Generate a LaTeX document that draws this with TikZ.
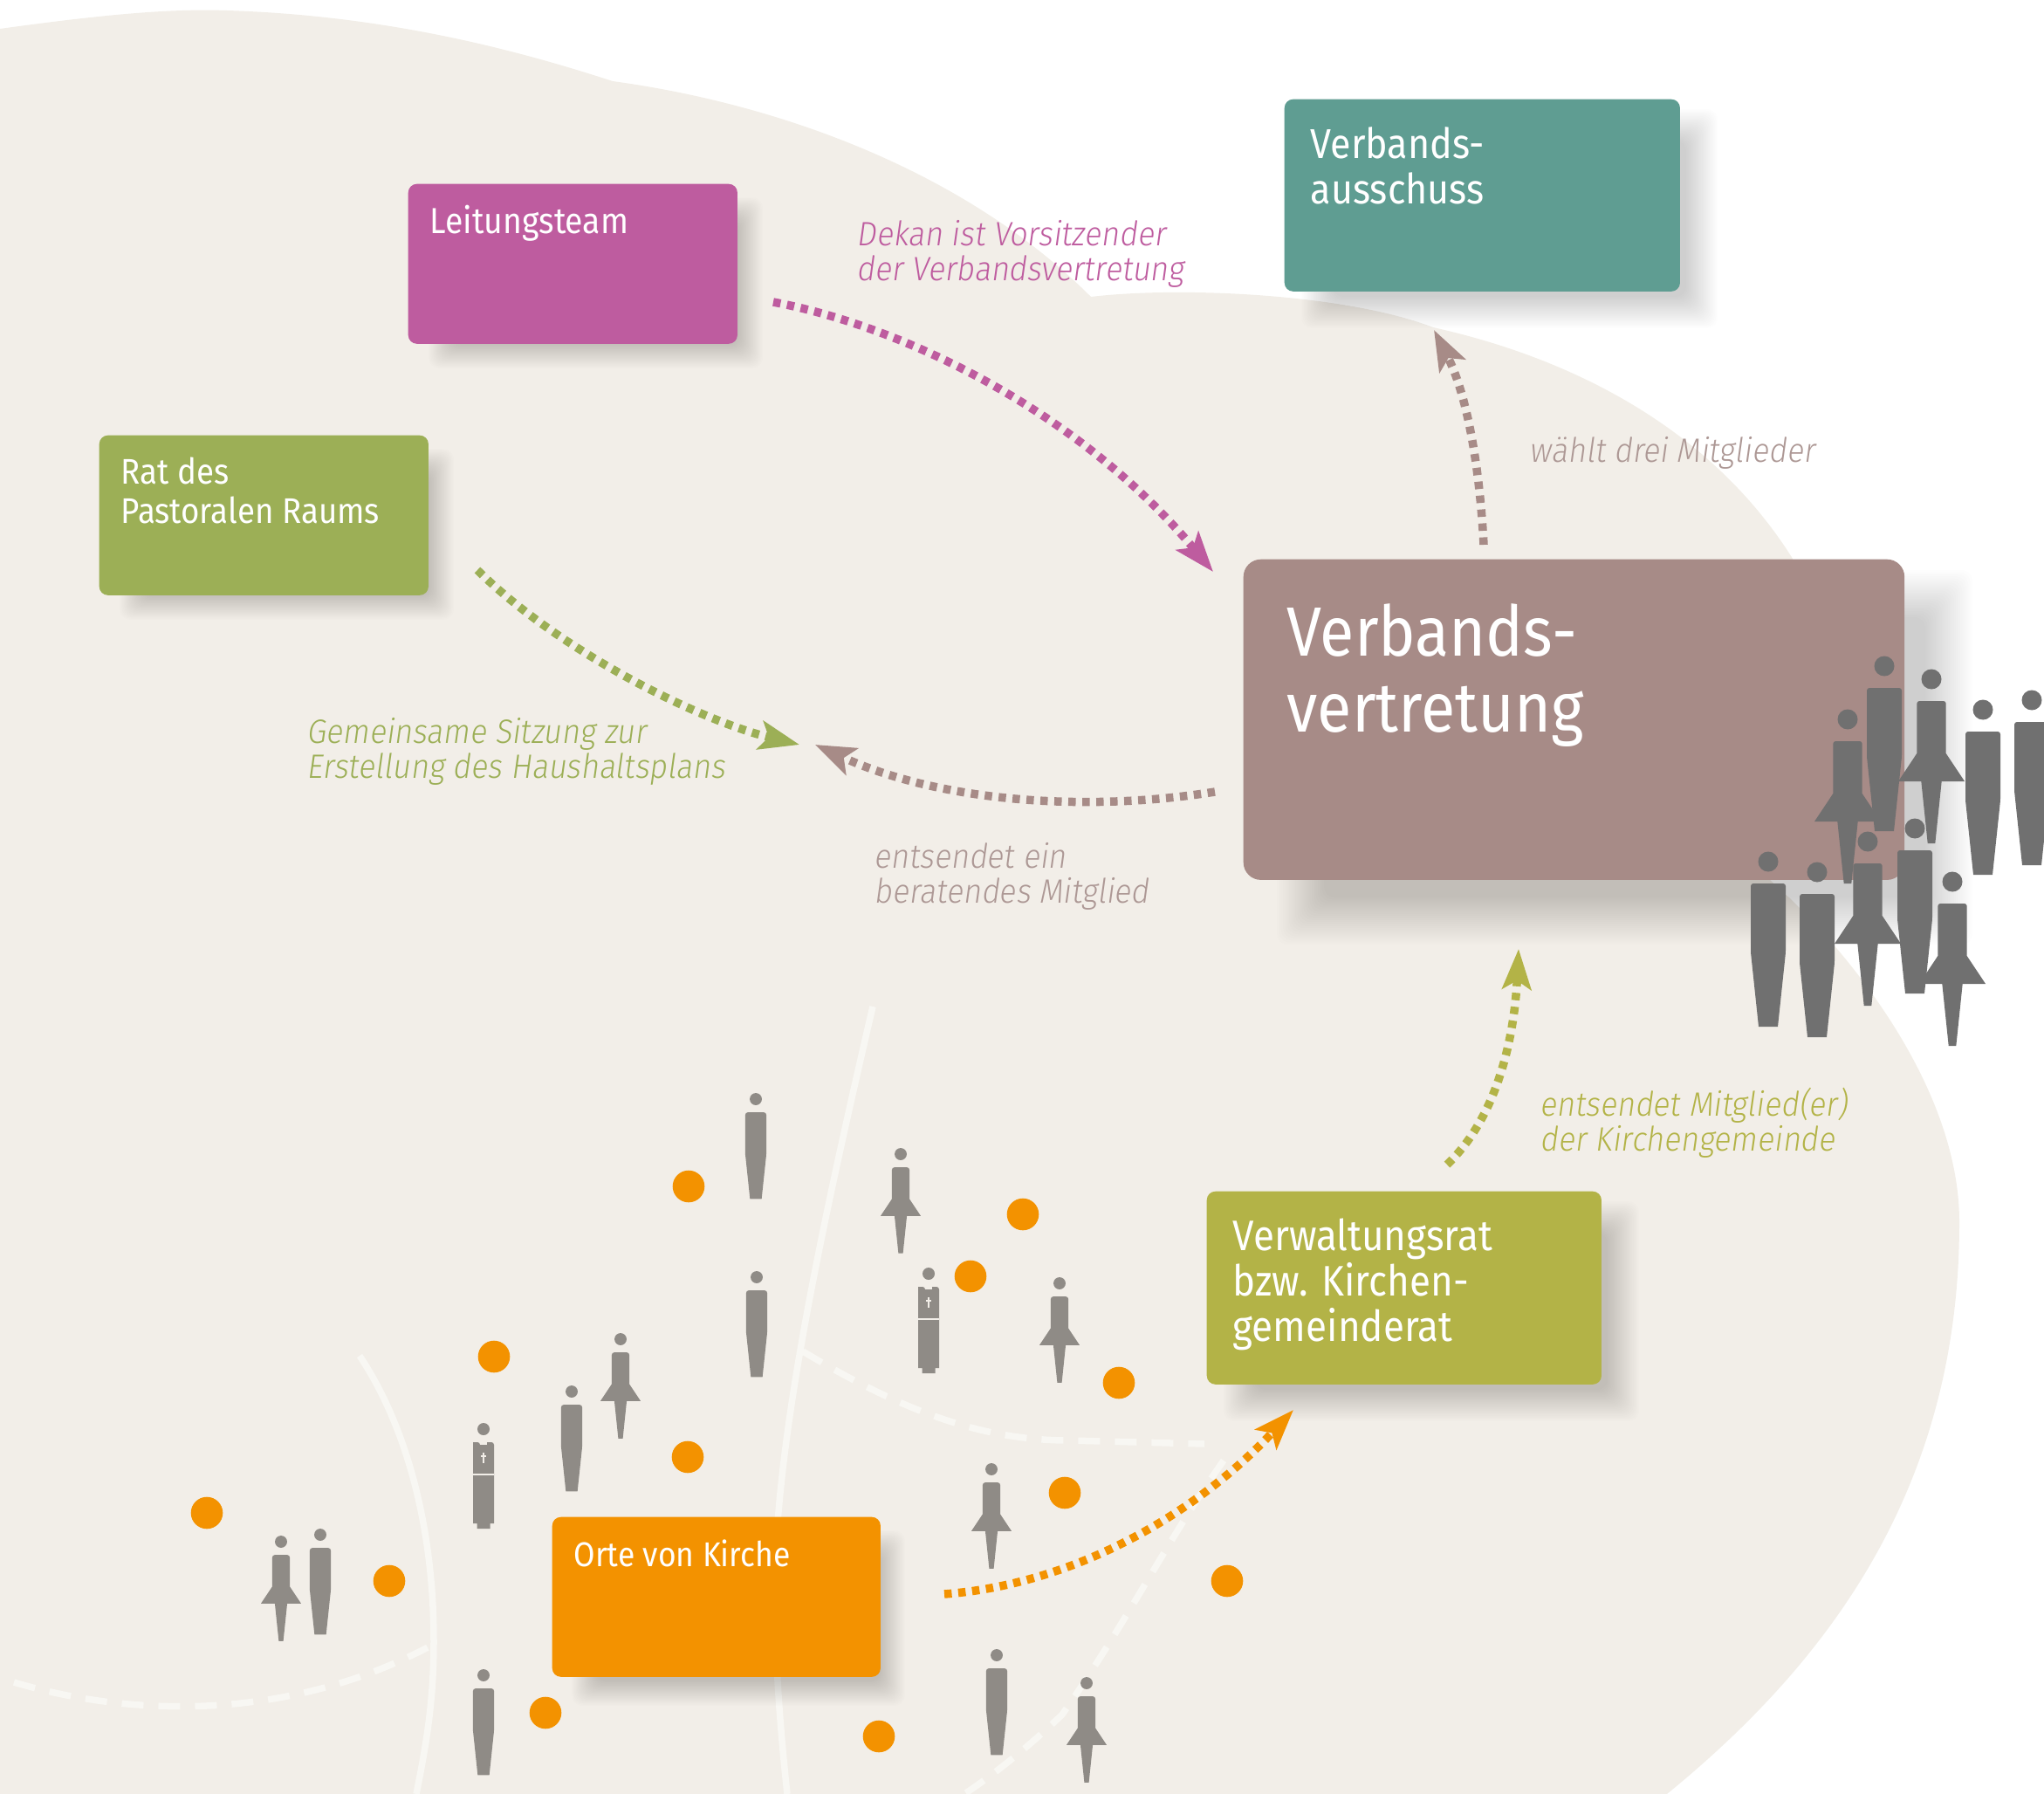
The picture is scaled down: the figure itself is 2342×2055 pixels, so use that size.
\documentclass[tikz,border=0pt]{standalone}
\usepackage{fontspec}
\usetikzlibrary{arrows.meta}
\newfontfamily\boxfont[FakeStretch=0.9]{Fira Sans}
\newfontfamily\notefont[FakeStretch=0.92,FakeSlant=0.14]{Fira Sans Light}
\definecolor{blobc}{HTML}{F2EEE8}
\definecolor{linec}{HTML}{F8F7F3}
\definecolor{pinkc}{HTML}{BE5C9F}
\definecolor{greenc}{HTML}{9CAF56}
\definecolor{tealc}{HTML}{5F9D92}
\definecolor{mauvec}{HTML}{A78B87}
\definecolor{mauvet}{HTML}{AD9895}
\definecolor{olivec}{HTML}{B3B347}
\definecolor{orangec}{HTML}{F39200}
\definecolor{bigfig}{HTML}{707070}
\definecolor{smallfig}{HTML}{8F8B86}
\newcommand{\softshadow}[5]{%
  \foreach \i in {0,...,23}{%
    \pgfmathsetmacro{\e}{#5*(1-2*\i/23)}%
    \fill[black,opacity=0.0095,rounded corners=0.12cm]
      (#1-\e,#2-\e) rectangle (#3+\e,#4+\e);}}
\newcommand{\boxtext}[7]{\parbox[c][#2cm][t]{#1cm}{\raggedright\leftskip=#3cm\relax
  \boxfont\fontsize{#5}{#6}\selectfont\rule{0pt}{#4cm}#7}}
\tikzset{
  x=0.01cm,y=-0.01cm,
  boxnode/.style={anchor=north west,inner sep=0pt,rounded corners=0.1cm,text=white},
  notenode/.style={anchor=north west,inner sep=0pt,align=left,font=\notefont\fontsize{11}{11.4}\selectfont},
  dotted arrow/.style={line width=0.095cm,dash pattern=on 0.085cm off 0.075cm,
    -{Stealth[length=0.46cm,width=0.33cm,inset=0.1cm]}},
  whiteline/.style={draw=linec,line width=0.075cm},
  whitedash/.style={whiteline,dash pattern=on 0.25cm off 0.17cm},
  man/.pic={
    \fill[pic actions] (0,0) circle[radius=11.5];
    \fill[pic actions,rounded corners=0.03cm] (-20,25) -- (20,25) -- (20,70) -- (20,104) [sharp corners] -- (11,189) -- (-11,189) -- (-20,104) [rounded corners=0.03cm] -- (-20,70) -- cycle;
  },
  woman/.pic={
    \fill[pic actions] (0,0) circle[radius=11.5];
    \fill[pic actions,rounded corners=0.03cm] (-16.7,25) -- (16.7,25) -- (16.7,60) [sharp corners] -- (16.7,85) -- (38,117) -- (11.7,117) -- (4.3,188) -- (-4.3,188) -- (-11.7,117) -- (-38,117) -- (-16.7,85) [rounded corners=0.03cm] -- (-16.7,60) -- cycle;
  },
  priest/.pic={
    \fill[pic actions] (0,0) circle[radius=7];
    \fill[pic actions,rounded corners=0.03cm] (-12,15) -- (-4,15) [sharp corners] -- (-4,18) -- (4,18) -- (4,15) [rounded corners=0.03cm] -- (12,15) -- (12,40) [sharp corners] -- (12,108) -- (7.5,108) -- (7.5,114) -- (-7.5,114) -- (-7.5,108) -- (-12,108) -- (-12,40) -- cycle;
    \draw[blobc,line width=0.02cm] (-12,52) -- (12,52);
    \draw[blobc,line width=0.012cm] (0,27) -- (0,39) (-3,31) -- (3,31);
  }
}
\begin{document}
\begin{tikzpicture}
\useasboundingbox (0,0) rectangle (2342,2055);
% background shape
\fill[blobc] (0,33) .. controls (130,15) and (200,10) .. (260,12)
  .. controls (450,18) and (600,60) .. (702,93)
  .. controls (900,120) and (1110,200) .. (1250,340)
  .. controls (1350,328) and (1540,336) .. (1642,375)
  .. controls (1800,410) and (1960,490) .. (2054,640)
  -- (2000,950) -- (2027,1007)
  .. controls (2110,1080) and (2245,1240) .. (2245,1400)
  .. controls (2245,1700) and (2100,1900) .. (1910,2055)
  -- (0,2055) -- cycle;
% white lines
\draw[whiteline] (1000,1153) .. controls (945,1390) and (890,1640) .. (888,1810) .. controls (887,1900) and (895,1990) .. (902,2055);
\draw[whiteline] (412,1553) .. controls (470,1640) and (497,1760) .. (497,1880) .. controls (497,1950) and (488,2000) .. (477,2055);
\draw[whitedash] (16,1927) .. controls (150,1967) and (330,1972) .. (494,1885);
\draw[whitedash] (920,1548) .. controls (1040,1620) and (1130,1650) .. (1225,1650) -- (1380,1654);
\draw[whitedash] (1402,1673) .. controls (1340,1760) and (1290,1860) .. (1217,1964) .. controls (1190,1990) and (1150,2025) .. (1105,2055);
% shadows
\softshadow{505}{240}{860}{408}{14}
\softshadow{151}{528}{506}{696}{14}
\softshadow{1509}{143}{1950}{358}{18}
\softshadow{1490}{680}{2233}{1055}{27}
\softshadow{1420}{1394}{1860}{1610}{18}
\softshadow{669}{1767}{1023}{1940}{14}
% boxes
\node[boxnode,fill=pinkc] (leitung) at (467,210) {\boxtext{3.77}{1.83}{0.25}{0.57}{11.8}{14}{Leitungsteam}};
\node[boxnode,fill=greenc] (rat) at (113,498) {\boxtext{3.77}{1.83}{0.25}{0.56}{11.6}{12.6}{Rat des\\Pastoralen Raums}};
\node[boxnode,fill=tealc] (ausschuss) at (1471,113) {\boxtext{4.53}{2.20}{0.30}{0.68}{13.6}{14.8}{Verbands-\\ausschuss}};
\node[boxnode,fill=mauvec,rounded corners=0.2cm] (vertretung) at (1424,640) {\boxtext{7.57}{3.67}{0.50}{1.11}{22.7}{24.8}{Verbands-\\vertretung}};
\node[boxnode,fill=olivec] (rat2) at (1382,1364) {\boxtext{4.52}{2.21}{0.30}{0.68}{13.9}{14.8}{Verwaltungsrat\\bzw. Kirchen-\\gemeinderat}};
\node[boxnode,fill=orangec] (orte) at (632,1737) {\boxtext{3.76}{1.83}{0.25}{0.57}{11.2}{14}{Orte von Kirche}};
% connector ends
\coordinate (leitungOut) at (886,346);
\coordinate (vertretungInA) at (1390,655);
\coordinate (ratOut) at (547,653);
\coordinate (sitzung) at (916,853);
\coordinate (vertretungOutA) at (1392,907);
\coordinate (sitzungB) at (934,853);
\coordinate (vertretungOutB) at (1700,624);
\coordinate (ausschussIn) at (1643,378);
\coordinate (rat2Out) at (1658,1334);
\coordinate (vertretungInB) at (1740,1087);
\coordinate (orteOut) at (1082,1826);
\coordinate (rat2In) at (1482,1615);
% connectors
\draw[dotted arrow,pinkc] (leitungOut) .. controls (1040,375) and (1240,475) .. (vertretungInA);
\draw[dotted arrow,greenc] (ratOut) .. controls (640,745) and (800,825) .. (sitzung);
\draw[dotted arrow,mauvec] (vertretungOutA) .. controls (1250,930) and (1080,920) .. (sitzungB);
\draw[dotted arrow,mauvec] (vertretungOutB) .. controls (1695,530) and (1680,450) .. (ausschussIn);
\draw[dotted arrow,olivec] (rat2Out) .. controls (1715,1280) and (1735,1190) .. (vertretungInB);
\draw[dotted arrow,orangec] (orteOut) .. controls (1230,1815) and (1370,1735) .. (rat2In);
% notes
\node[notenode,text=pinkc] (n1) at (981,252) {Dekan ist Vorsitzender\\der Verbandsvertretung};
\node[notenode,text=mauvet] (n2) at (1752,500) {wählt drei Mitglieder};
\node[notenode,text=greenc] (n3) at (351,822) {Gemeinsame Sitzung zur\\Erstellung des Haushaltsplans};
\node[notenode,text=mauvet] (n4) at (1001,965) {entsendet ein\\beratendes Mitglied};
\node[notenode,text=olivec] (n5) at (1764,1245) {entsendet Mitglied(er)\\der Kirchengemeinde};
% places
\foreach \px/\py in {789/1359,1172/1391,1112/1462,1282/1584,566/1554,788/1669,1220/1710,237/1733,446/1811,1406/1811,625/1962,1007/1989}
  \fill[orangec] (\px,\py) circle[radius=18.3];
% small people
\foreach \px/\py in {866/1259,867/1463,655/1594,554/1919,367/1758,1142/1896}
  \pic[fill=smallfig,scale=0.605] at (\px,\py) {man};
\foreach \px/\py in {1032/1322,1214/1470,711/1534,322/1766,1136/1683,1245/1928}
  \pic[fill=smallfig,scale=0.605] at (\px,\py) {woman};
\foreach \px/\py in {1064/1459,554/1637}
  \pic[fill=smallfig] at (\px,\py) {priest};
% large people
\foreach \px/\py in {2159/763,2272/813,2328/802,2194/949,2026/987,2082/999}
  \pic[fill=bigfig] at (\px,\py) {man};
\foreach \px/\py in {2213/778,2117/824,2140/964,2237/1010}
  \pic[fill=bigfig] at (\px,\py) {woman};
\end{tikzpicture}
\end{document}
